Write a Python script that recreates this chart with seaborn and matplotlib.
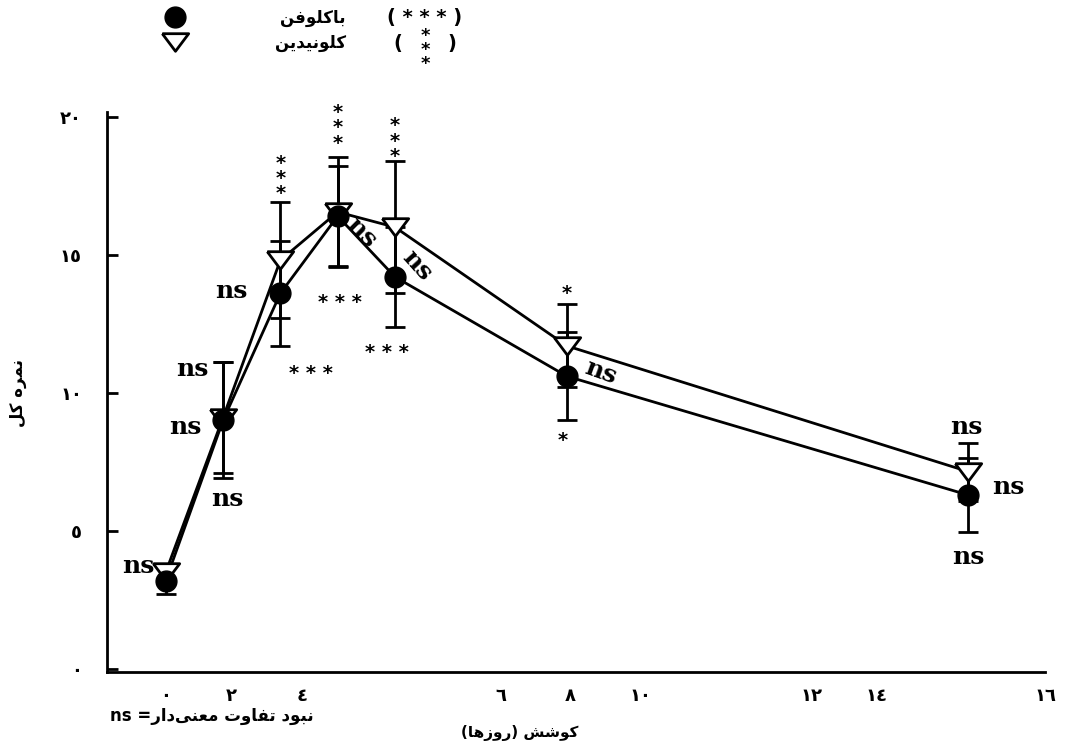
import numpy as np
import pandas as pd
import matplotlib.pyplot as plt
import seaborn as sns
from matplotlib.lines import Line2D

# --- data ---
days = [0, 1, 2, 3, 4, 7, 14]
baclofen = [3.2, 9.0, 13.6, 16.4, 14.2, 10.6, 6.3]
baclofen_err = [0.5, 2.1, 1.9, 1.8, 1.8, 1.6, 1.35]
clonidine = [3.5, 9.1, 14.8, 16.55, 16.0, 11.7, 7.15]
clonidine_err = [0.3, 2.0, 2.1, 2.0, 2.4, 1.5, 1.05]

name_bac = 'باکلوفن'
name_clo = 'کلونیدین'

# the original x labels do not sit on the day grid; keep them where they are drawn
xtick_pos = [0.0, 1.15, 2.38, 5.85, 7.05, 8.28, 11.27, 12.4, 15.35]
xtick_labels = ['٠', '٢', '٤', '٦', '٨', '١٠', '١٢', '١٤', '١٦']
ytick_pos = [0, 5, 10, 15, 20]
ytick_labels = ['٠', '٥', '١٠', '١٥', '٢٠']

# --- tiny persian shaper (matplotlib does no arabic shaping / bidi) ---
FORMS = {
    'ا': ('\uFE8D', '\uFE8E', None, None),
    'ب': ('\uFE8F', '\uFE90', '\uFE91', '\uFE92'),
    'ت': ('\uFE95', '\uFE96', '\uFE97', '\uFE98'),
    'د': ('\uFEA9', '\uFEAA', None, None),
    'ر': ('\uFEAD', '\uFEAE', None, None),
    'ز': ('\uFEAF', '\uFEB0', None, None),
    'ش': ('\uFEB5', '\uFEB6', '\uFEB7', '\uFEB8'),
    'ع': ('\uFEC9', '\uFECA', '\uFECB', '\uFECC'),
    'ف': ('\uFED1', '\uFED2', '\uFED3', '\uFED4'),
    'ک': ('\uFB8E', '\uFB8F', '\uFB90', '\uFB91'),
    'ل': ('\uFEDD', '\uFEDE', '\uFEDF', '\uFEE0'),
    'م': ('\uFEE1', '\uFEE2', '\uFEE3', '\uFEE4'),
    'ن': ('\uFEE5', '\uFEE6', '\uFEE7', '\uFEE8'),
    'و': ('\uFEED', '\uFEEE', None, None),
    'ه': ('\uFEE9', '\uFEEA', '\uFEEB', '\uFEEC'),
    'ی': ('\uFBFC', '\uFBFD', '\uFBFE', '\uFBFF'),
}
MIRROR = {'(': ')', ')': '('}


def fa(text):
    out = []
    for i, c in enumerate(text):
        f = FORMS.get(c)
        if f is None:
            out.append(MIRROR.get(c, c))
            continue
        prev = text[i - 1] if i else ''
        nxt = text[i + 1] if i + 1 < len(text) else ''
        jp = prev in FORMS and FORMS[prev][2] is not None
        jn = f[2] is not None and nxt in FORMS
        idx = 3 if (jp and jn) else 1 if jp else 2 if jn else 0
        out.append(f[idx])
    return ''.join(reversed(out)).replace('\u200c', '')


df = pd.DataFrame({
    'day': days * 2,
    'score': baclofen + clonidine,
    'drug': [name_bac] * len(days) + [name_clo] * len(days),
})

sns.set_style('ticks')
plt.rcParams['font.family'] = ['DejaVu Sans']
plt.rcParams.update({'text.color': 'black', 'axes.edgecolor': 'black',
                     'xtick.color': 'black', 'ytick.color': 'black',
                     'axes.labelcolor': 'black'})

fig = plt.figure(figsize=(10.75, 7.47), dpi=100)
ax = fig.add_axes([0.0995, 0.1004, 0.873, 0.75])

sns.lineplot(data=df, x='day', y='score', hue='drug',
             palette={name_bac: 'black', name_clo: 'black'},
             linewidth=2, legend=False, ax=ax, zorder=2)

tri = [(-1.5, 1), (1.5, 1), (0, -1), (-1.5, 1)]
ax.errorbar(days, clonidine, yerr=clonidine_err, fmt='none', ecolor='black',
            elinewidth=2, capsize=7, capthick=2, zorder=3)
ax.errorbar(days, baclofen, yerr=baclofen_err, fmt='none', ecolor='black',
            elinewidth=2, capsize=7, capthick=2, zorder=3)
ax.plot(days, clonidine, linestyle='none', marker=tri, ms=19,
        mfc='white', mec='black', mew=2, zorder=4)
ax.plot(days, baclofen, linestyle='none', marker='o', ms=15,
        mfc='black', mec='black', zorder=5)

ax.set_xlim(-1.025, 15.27)
ax.set_ylim(-0.11, 20.18)
ax.set_xticks(xtick_pos)
ax.set_xticklabels(xtick_labels, fontsize=13, fontweight='bold')
ax.set_yticks(ytick_pos)
ax.set_yticklabels(ytick_labels, fontsize=13, fontweight='bold')
ax.tick_params(axis='x', length=0, pad=11)
ax.tick_params(axis='y', direction='in', length=8, width=2, pad=18)
ax.set_xlabel('')
ax.set_ylabel('')
sns.despine(ax=ax)
for s in ['left', 'bottom']:
    ax.spines[s].set_linewidth(2)

# significance marks: (text, series values, index, dx px, dy px, rotation)
ns_font = dict(fontfamily='DejaVu Serif', fontweight='bold', fontsize=18)
marks = [
    ('ns', clonidine, 0, -27, 6, 0),
    ('ns', baclofen, 1, -38, -7, 0),
    ('ns', baclofen, 1, 4, -79, 0),
    ('ns', baclofen, 1, -31, 51, 0),
    ('ns', baclofen, 2, -49, 2, 0),
    ('ns', baclofen, 3, 24, -16, -45),
    ('ns', baclofen, 4, 22, 12, -48),
    ('ns', baclofen, 5, 34, 4, -20),
    ('ns', clonidine, 6, -2, 45, 0),
    ('ns', baclofen, 6, 40, 8, 0),
    ('ns', baclofen, 6, 0, -62, 0),
]
for text, ser, i, dx, dy, rot in marks:
    ax.annotate(text, xy=(days[i], ser[i]), xytext=(dx, dy),
                textcoords='offset pixels', ha='center', va='center',
                rotation=rot, **ns_font)

stars = [
    ('* * *', baclofen, 2, 31, -80),
    ('* * *', baclofen, 3, 2, -86),
    ('* * *', baclofen, 4, -8, -76),
    ('*\n*\n*', clonidine, 2, 0, 82),
    ('*\n*\n*', clonidine, 3, 0, 84),
    ('*\n*\n*', clonidine, 4, 0, 86),
    ('*', clonidine, 5, 0, 52),
    ('*', baclofen, 5, -4, -64),
]
for text, ser, i, dx, dy in stars:
    ax.annotate(text, xy=(days[i], ser[i]), xytext=(dx, dy),
                textcoords='offset pixels', ha='center', va='center',
                fontsize=14, fontweight='bold', linespacing=0.75)

# axis titles
fig.text(18 / 1075, 1 - 393 / 747, fa('نمره کل'), rotation=90, ha='center',
         va='center', fontsize=12, fontweight='bold')
fig.text(520 / 1075, 1 - 733 / 747, fa('کوشش (روزها)'), ha='center',
         va='center', fontsize=11, fontweight='bold')
fig.text(110 / 1075, 1 - 716 / 747, 'ns =' + fa('نبود تفاوت معنی\u200cدار'),
         ha='left', va='center', fontsize=12, fontweight='bold')

# legend drawn at the top like the original
fig.add_artist(Line2D([175 / 1075], [1 - 17 / 747], marker='o', ms=15,
                      mfc='black', mec='black', linestyle='none',
                      transform=fig.transFigure))
fig.add_artist(Line2D([175 / 1075], [1 - 42 / 747], marker=tri, ms=19,
                      mfc='white', mec='black', mew=2, linestyle='none',
                      transform=fig.transFigure))
fig.text(313 / 1075, 1 - 18 / 747, fa(name_bac), ha='center', va='center',
         fontsize=12, fontweight='bold')
fig.text(311 / 1075, 1 - 43 / 747, fa(name_clo), ha='center', va='center',
         fontsize=12, fontweight='bold')
fig.text(425 / 1075, 1 - 17 / 747, '( * * * )', ha='center', va='center',
         fontsize=14, fontweight='bold')
fig.text(398 / 1075, 1 - 43 / 747, '(', ha='center', va='center',
         fontsize=14, fontweight='bold')
fig.text(452 / 1075, 1 - 43 / 747, ')', ha='center', va='center',
         fontsize=14, fontweight='bold')
fig.text(425 / 1075, 1 - 50 / 747, '*\n*\n*', ha='center', va='center',
         fontsize=13, fontweight='bold', linespacing=0.7)

fig.savefig('out.png', dpi=100)
